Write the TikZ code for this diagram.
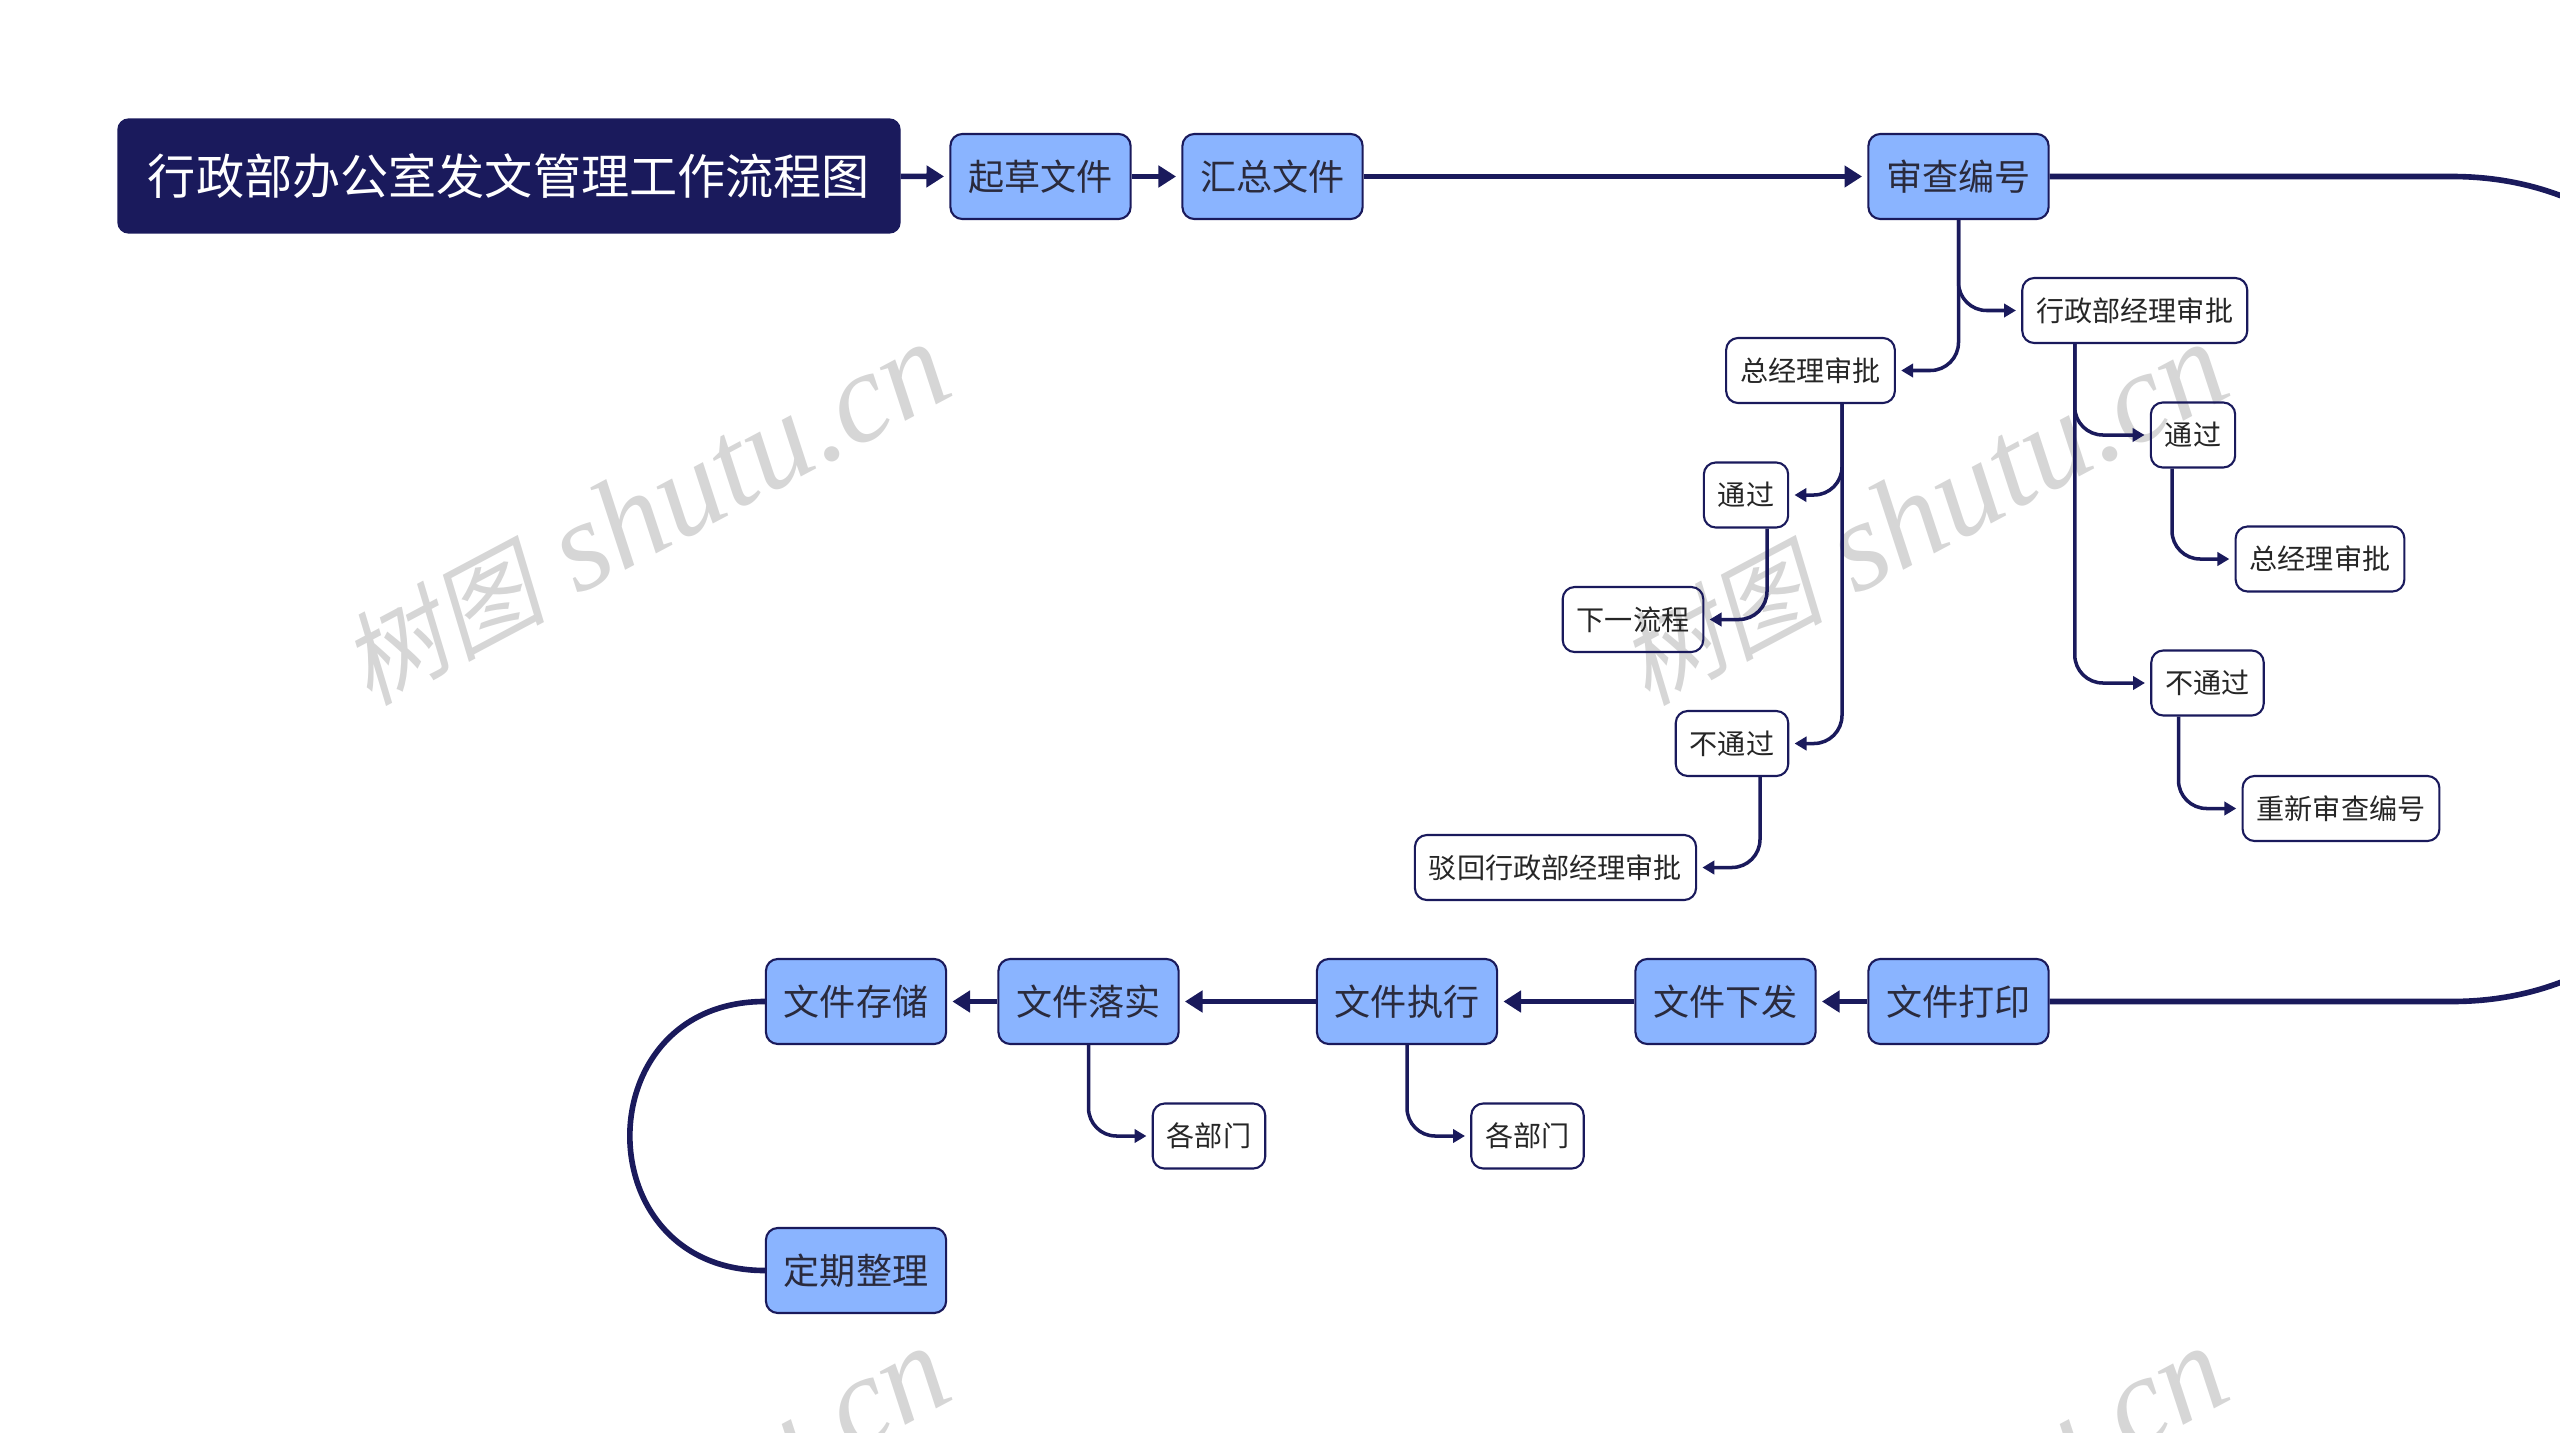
\documentclass[tikz,border=0pt]{standalone}
\usepackage{fontspec}
\setmainfont{Noto Sans CJK SC}
\newfontfamily\markfont{Liberation Serif}
\newfontfamily\markcjk[FakeSlant=0.2]{Noto Sans CJK SC}
\usetikzlibrary{arrows.meta,positioning,calc}
\definecolor{navy}{HTML}{1A1A5C}
\definecolor{boxblue}{HTML}{8AB4FF}
\definecolor{inkdark}{HTML}{2A2A3C}
\definecolor{marktext}{HTML}{D6D6D6}
\newcommand{\marklabel}{{\fontsize{29pt}{34pt}\selectfont\markcjk 树图}\hspace{9pt}{\fontsize{36.5pt}{40pt}\selectfont\markfont\itshape shutu.cn}}
\tikzset{
    titlebox/.style={draw=navy, fill=navy, text=white, rounded corners=3pt, line width=0.4pt,
        font=\fontsize{13.7pt}{16pt}\selectfont, inner xsep=8.5pt, minimum height=32.4pt},
    mainbox/.style={draw=navy, fill=boxblue, text=inkdark, rounded corners=3.4pt, line width=0.6pt,
        font=\fontsize{10.27pt}{12pt}\selectfont, inner xsep=5.1pt, minimum height=24.2pt},
    subbox/.style={draw=navy, text=black!85, rounded corners=3.4pt, line width=0.6pt,
        font=\fontsize{8pt}{10pt}\selectfont, inner xsep=4pt, minimum height=18.5pt},
    mainlink/.style={draw=navy, line width=1.6pt, -{Triangle[length=5pt,width=6pt]}, shorten >=1.5pt},
    bendlink/.style={draw=navy, line width=1.6pt},
    sublink/.style={draw=navy, line width=1pt, rounded corners=8pt,
        -{Triangle[length=3.4pt,width=3.8pt]}, shorten >=1.5pt},
    watermark/.style={text=marktext, rotate=28}
}

\begin{document}
\begin{tikzpicture}[x=0.1mm,y=-0.1mm]
    \useasboundingbox (0,0) rectangle (2560,1433);
    \clip (0,0) rectangle (2560,1433);

    % watermarks
    \node[watermark] (markA) at (645,514) {\marklabel};
    \node[watermark] (markB) at (1923,514) {\marklabel};
    \node[watermark] (markC) at (645,1518) {\marklabel};
    \node[watermark] (markD) at (1923,1518) {\marklabel};

    % top row
    \node[titlebox] (title) at (509,176) {行政部办公室发文管理工作流程图};
    \node[mainbox] (qicao) at (1040.5,176.5) {起草文件};
    \node[mainbox] (huizong) at (1272.5,176.5) {汇总文件};
    \node[mainbox] (shencha) at (1958.5,176.5) {审查编号};

    % review branches
    \node[subbox] (xingzheng) at (2134.75,310.5) {行政部经理审批};
    \node[subbox] (tongguoR) at (2193,435) {通过};
    \node[subbox] (zongjingR) at (2320,559) {总经理审批};
    \node[subbox] (butongR) at (2207.5,683) {不通过};
    \node[subbox] (chongxin) at (2341,808.5) {重新审查编号};
    \node[subbox] (zongjingL) at (1810.5,370.5) {总经理审批};
    \node[subbox] (tongguoL) at (1746,495) {通过};
    \node[subbox] (xiayi) at (1633,619.5) {下一流程};
    \node[subbox] (butongL) at (1732,743.5) {不通过};
    \node[subbox] (bohui) at (1555.5,867.5) {驳回行政部经理审批};

    % bottom row
    \node[mainbox] (dayin) at (1958.5,1001.5) {文件打印};
    \node[mainbox] (xiafa) at (1725.5,1001.5) {文件下发};
    \node[mainbox] (zhixing) at (1407,1001.5) {文件执行};
    \node[mainbox] (luoshi) at (1088.5,1001.5) {文件落实};
    \node[mainbox] (cunchu) at (856,1001.5) {文件存储};
    \node[mainbox] (dingqi) at (856,1270.5) {定期整理};
    \node[subbox] (bumenA) at (1527.5,1136) {各部门};
    \node[subbox] (bumenB) at (1209,1136) {各部门};

    \draw[mainlink] (title) -- (qicao);
    \draw[mainlink] (qicao) -- (huizong);
    \draw[mainlink] (huizong) -- (shencha);
    \draw[bendlink] (shencha.east) -- ++(402,0) .. controls +(440,0) and ($(dayin.east)+(842,0)$) .. ($(dayin.east)+(402,0)$) -- (dayin.east);
    \draw[mainlink] (dayin) -- (xiafa);
    \draw[mainlink] (xiafa) -- (zhixing);
    \draw[mainlink] (zhixing) -- (luoshi);
    \draw[mainlink] (luoshi) -- (cunchu);
    \draw[bendlink] (cunchu.west) .. controls +(-180,0) and ($(dingqi.west)+(-180,0)$) .. (dingqi.west);

    \draw[sublink] (shencha.south) |- (xingzheng.west);
    \draw[sublink] (shencha.south) |- (zongjingL.east);
    \draw[sublink] (xingzheng.south) ++(-60,0) |- (tongguoR.west);
    \draw[sublink] (xingzheng.south) ++(-60,0) |- (butongR.west);
    \draw[sublink] (tongguoR.south) ++(-21,0) |- (zongjingR.west);
    \draw[sublink] (butongR.south) ++(-29,0) |- (chongxin.west);
    \draw[sublink] (zongjingL.south) ++(31.5,0) |- (tongguoL.east);
    \draw[sublink] (zongjingL.south) ++(31.5,0) |- (butongL.east);
    \draw[sublink] (tongguoL.south) ++(21,0) |- (xiayi.east);
    \draw[sublink] (butongL.south) ++(28,0) |- (bohui.east);
    \draw[sublink] (luoshi.south) |- (bumenB.west);
    \draw[sublink] (zhixing.south) |- (bumenA.west);
\end{tikzpicture}
\end{document}
